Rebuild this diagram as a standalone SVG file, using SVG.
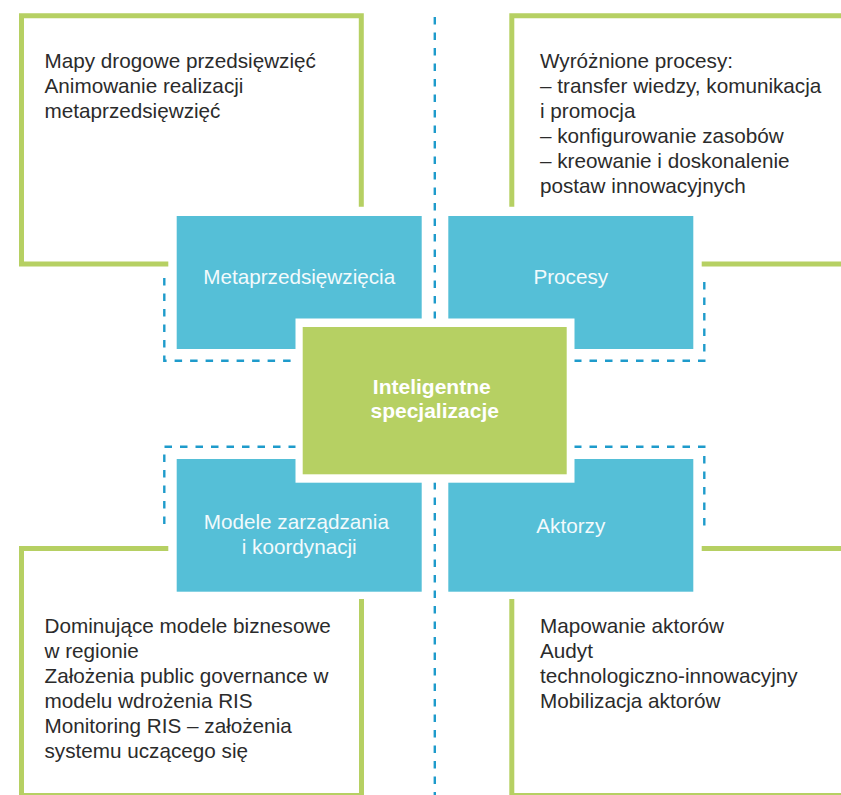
<svg xmlns="http://www.w3.org/2000/svg" width="841" height="795" viewBox="0 0 841 795">
  <style>
    .frame { fill: none; stroke: #b6d063; stroke-width: 5; }
    .dash { fill: none; stroke: #1e9bcb; stroke-width: 2.4; stroke-dasharray: 7.5 8; }
    .box { fill: #55bfd7; }
    .body { font-family: "Liberation Sans", Arial, sans-serif; font-size: 20.7px; fill: #2b2b2b; }
    .label { font-family: "Liberation Sans", Arial, sans-serif; font-size: 20.7px; fill: #f2fafc; text-anchor: middle; }
    .core { font-family: "Liberation Sans", Arial, sans-serif; font-size: 21px; font-weight: bold; fill: #ffffff; text-anchor: middle; }
  </style>
  <rect width="841" height="795" fill="#ffffff"/>

  <!-- text panels with open green frames -->
  <g id="panel-metaprzedsiewziecia">
    <path class="frame" d="M168.3,264 H21.5 V15.8 H361.3 V206.7"/>
    <text class="body" x="44.5" y="68.3">
      <tspan x="44.5" y="68.3">Mapy drogowe przedsięwzięć</tspan>
      <tspan x="44.5" y="93.3">Animowanie realizacji</tspan>
      <tspan x="44.5" y="118.3">metaprzedsięwzięć</tspan>
    </text>
  </g>
  <g id="panel-procesy">
    <path class="frame" d="M511.8,206.7 V15.8 H850 V264 H701.7"/>
    <text class="body" x="540" y="68.3">
      <tspan x="540" y="68.3">Wyróżnione procesy:</tspan>
      <tspan x="540" y="93.3">– transfer wiedzy, komunikacja</tspan>
      <tspan x="540" y="118.3">i promocja</tspan>
      <tspan x="540" y="143.3">– konfigurowanie zasobów</tspan>
      <tspan x="540" y="168.3">– kreowanie i doskonalenie</tspan>
      <tspan x="540" y="193.3">postaw innowacyjnych</tspan>
    </text>
  </g>
  <g id="panel-modele">
    <path class="frame" d="M168.3,548.5 H21.5 V795.5 H361.5 V599"/>
    <text class="body" x="44.5" y="633.3">
      <tspan x="44.5" y="633.3">Dominujące modele biznesowe</tspan>
      <tspan x="44.5" y="658.3">w regionie</tspan>
      <tspan x="44.5" y="683.3">Założenia public governance w</tspan>
      <tspan x="44.5" y="708.3">modelu wdrożenia RIS</tspan>
      <tspan x="44.5" y="733.3">Monitoring RIS – założenia</tspan>
      <tspan x="44.5" y="758.3">systemu uczącego się</tspan>
    </text>
  </g>
  <g id="panel-aktorzy">
    <path class="frame" d="M511.8,599 V795.5 H850 V548.5 H701.7"/>
    <text class="body" x="540" y="633.3">
      <tspan x="540" y="633.3">Mapowanie aktorów</tspan>
      <tspan x="540" y="658.3">Audyt</tspan>
      <tspan x="540" y="683.3">technologiczno-innowacyjny</tspan>
      <tspan x="540" y="708.3">Mobilizacja aktorów</tspan>
    </text>
  </g>

  <!-- dashed connectors -->
  <g id="connectors">
    <path class="dash" d="M434.8,17 V795"/>
    <path class="dash" d="M164.3,278 V360.7 H296"/>
    <path class="dash" d="M574,360.7 H704.3 V278"/>
    <path class="dash" d="M296,446.7 H164.3 V529"/>
    <path class="dash" d="M574,446.7 H704.3 V529"/>
  </g>

  <!-- four blue category boxes -->
  <g id="node-metaprzedsiewziecia">
    <rect class="box" x="176.7" y="216" width="245" height="133"/>
    <text class="label" x="299.2" y="284">Metaprzedsięwzięcia</text>
  </g>
  <g id="node-procesy">
    <rect class="box" x="448.3" y="216" width="245" height="133"/>
    <text class="label" x="570.8" y="284">Procesy</text>
  </g>
  <g id="node-modele">
    <rect class="box" x="176.7" y="459" width="245" height="132.7"/>
    <text class="label" x="299.2" y="529">
      <tspan x="299.2" y="529">Modele zarządzania</tspan>
      <tspan x="299.2" y="554">i koordynacji</tspan>
    </text>
  </g>
  <g id="node-aktorzy">
    <rect class="box" x="448.3" y="459" width="245" height="132.7"/>
    <text class="label" x="570.8" y="533.3">Aktorzy</text>
  </g>

  <!-- central node with white surround -->
  <g id="node-inteligentne-specjalizacje">
    <rect x="295.5" y="318.5" width="279" height="164.2" fill="#ffffff"/>
    <rect x="302.7" y="327" width="264" height="147.3" fill="#b6d063"/>
    <text class="core" x="434.7" y="394.3">
      <tspan x="434.7" y="394.3">Inteligentne</tspan>
      <tspan x="434.7" y="418.3">specjalizacje</tspan>
    </text>
  </g>
</svg>
